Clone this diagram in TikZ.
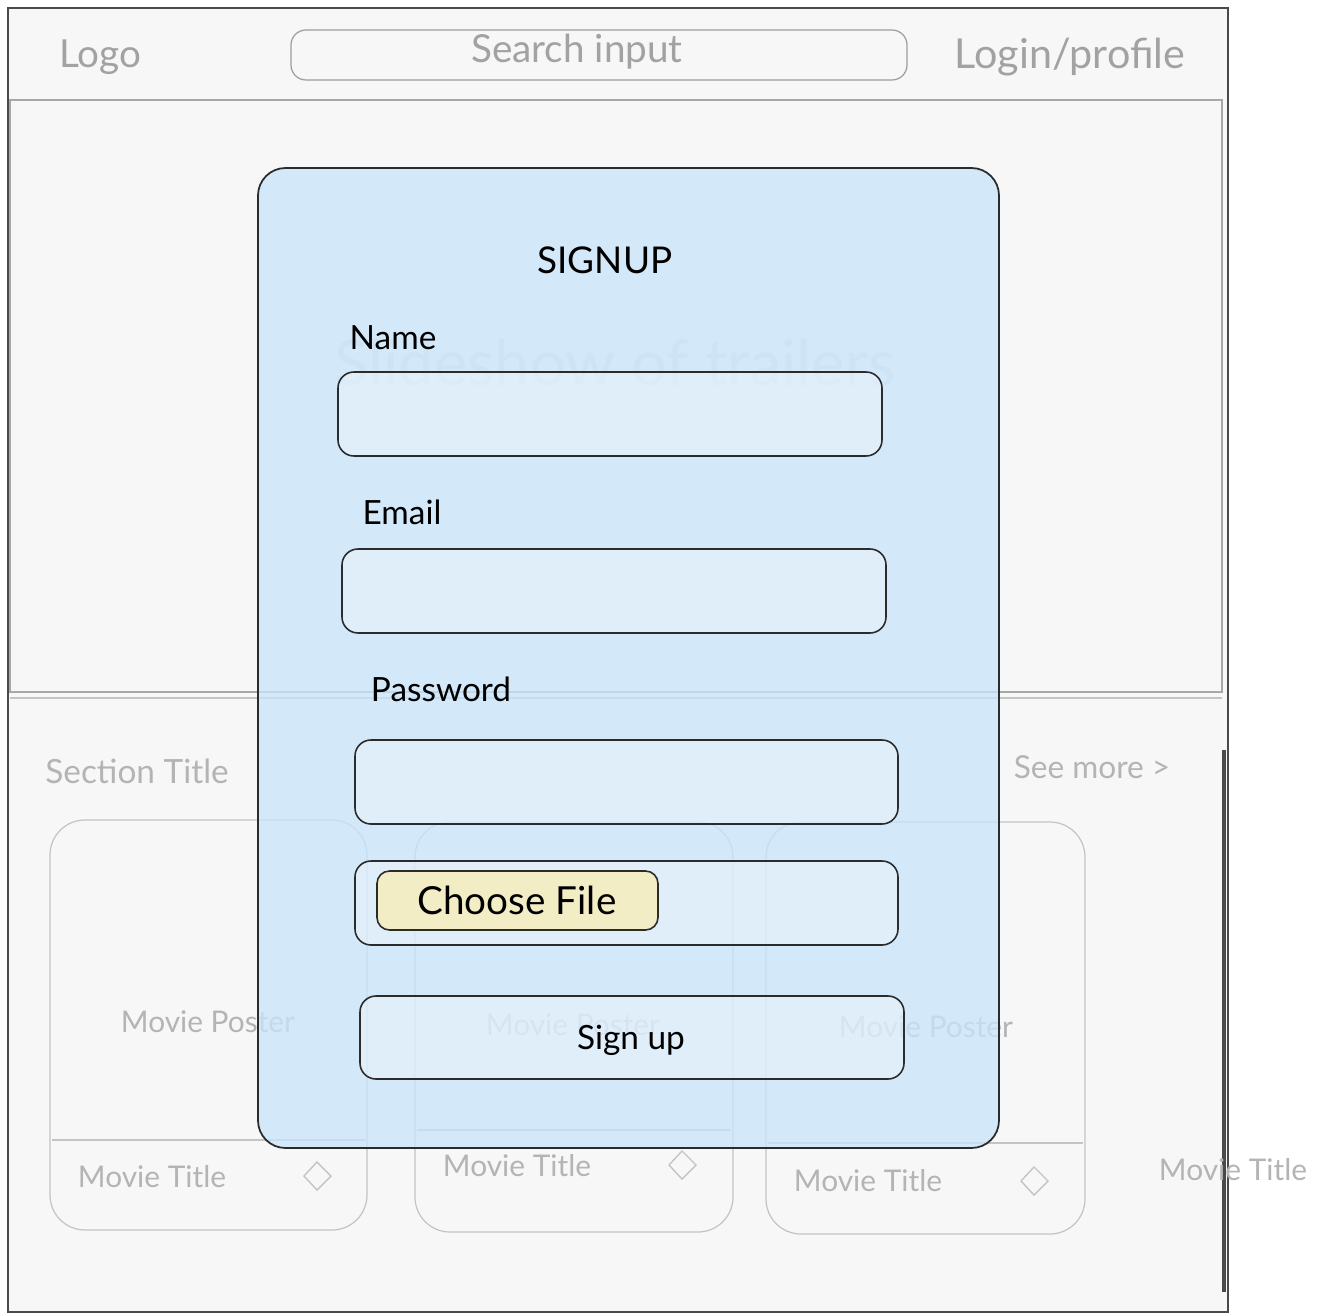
\documentclass[tikz,border=0pt]{standalone}
\usepackage{fontspec}
\setmainfont{Lato}
\definecolor{pagebg}{HTML}{F7F7F7}
\definecolor{frameline}{HTML}{4A4A4A}
\definecolor{faintline}{HTML}{C4C4C4}
\definecolor{fainttext}{HTML}{B4B4B4}
\definecolor{modalfill}{HTML}{C9E4FA}
\definecolor{inkline}{HTML}{2B2B2B}
\definecolor{btnfill}{HTML}{F3EDC6}
\tikzset{
  ghost/.style={draw=faintline, line width=0.7pt},
  ghosttext/.style={text=fainttext, font=\fontsize{17}{20}\selectfont, inner sep=0pt},
  headtext/.style={text=fainttext!90!black, font=\fontsize{22}{26}\selectfont, inner sep=0pt},
  field/.style={draw=inkline, line width=0.9pt, rounded corners=0.32cm, fill=white, fill opacity=0.3},
  label/.style={text=black, font=\fontsize{19}{23}\selectfont, inner sep=0pt},
  diam/.style={draw=faintline, line width=0.8pt}
}
\begin{document}
\begin{tikzpicture}[x=0.02cm, y=-0.02cm]
\useasboundingbox (0,0) rectangle (1323,1315);
\fill[white] (0,0) rectangle (1323,1315);

% page frame
\fill[pagebg] (8,8) rectangle (1228,1312);
\draw[frameline, line width=1pt] (8,1312) -- (8,8) -- (1228,8) -- (1228,1312) -- cycle;
\draw[frameline, line width=2pt] (1224,750) -- (1224,1292);

% header
\node[headtext] (logo) at (100,57) {Logo};
\draw[ghost, draw=faintline!80!black, rounded corners=0.3cm] (291,30) rectangle (907,80);
\node[headtext] (search) at (577,52) {Search input};
\node[headtext, font=\fontsize{23.5}{27}\selectfont] (login) at (1070,57) {Login/profile};

% hero area
\draw[ghost, draw=faintline!85!black, line width=1pt] (10,100) rectangle (1222,692);
\draw[ghost, line width=1pt] (10,698) -- (1222,698);
\node[text=black!12, font=\fontsize{36}{40}\selectfont, inner sep=0pt] (slides) at (615,362) {Slideshow of trailers};

% section row
\node[ghosttext, font=\fontsize{19}{22}\selectfont] (section) at (137,771) {Section Title};
\node[ghosttext, font=\fontsize{18}{22}\selectfont] (seemore) at (1092,767) {See more \textgreater};

% movie cards
\draw[ghost, rounded corners=0.7cm] (50,820) rectangle (367,1230);
\draw[ghost] (52,1140) -- (365,1140);
\node[ghosttext] (poster1) at (208,1022) {Movie Poster};
\node[ghosttext] (title1) at (152,1177) {Movie Title};
\draw[diam] (317,1162) -- (331,1176) -- (317,1190) -- (304,1176) -- cycle;

\draw[ghost, rounded corners=0.7cm] (415,822) rectangle (733,1232);
\draw[ghost] (417,1130) -- (731,1130);
\node[ghosttext] (poster2) at (573,1025) {Movie Poster};
\node[ghosttext] (title2) at (517,1166) {Movie Title};
\draw[diam] (682,1151) -- (696,1165) -- (682,1179) -- (669,1165) -- cycle;

\draw[ghost, rounded corners=0.7cm] (766,822) rectangle (1085,1234);
\draw[ghost] (768,1143) -- (1083,1143);
\node[ghosttext] (poster3) at (926,1027) {Movie Poster};
\node[ghosttext] (title3) at (868,1181) {Movie Title};
\draw[diam] (1034,1167) -- (1048,1181) -- (1034,1195) -- (1021,1181) -- cycle;

\node[ghosttext] (title4) at (1233,1170) {Movie Title};

% signup dialog
\draw[draw=inkline, line width=1pt, fill=modalfill, fill opacity=0.78, rounded corners=0.55cm] (258,168) rectangle (999,1148);
\node[label, font=\fontsize{21}{25}\selectfont] (signup) at (605,260) {SIGNUP};

\node[label] (namelbl) at (393,338) {Name};
\draw[field] (338,372) rectangle (882,456);
\node[label] (emaillbl) at (402,512) {Email};
\draw[field] (342,549) rectangle (886,633);
\node[label] (passlbl) at (441,689) {Password};
\draw[field] (355,740) rectangle (898,824);

\draw[field] (355,861) rectangle (898,945);
\draw[draw=inkline, line width=0.9pt, rounded corners=0.25cm, fill=btnfill] (377,871) rectangle (658,930);
\node[label, font=\fontsize{22}{26}\selectfont] (choose) at (517,900) {Choose File};

\draw[field] (360,996) rectangle (904,1079);
\node[label] (signupbtn) at (631,1040) {Sign up};
\end{tikzpicture}
\end{document}
